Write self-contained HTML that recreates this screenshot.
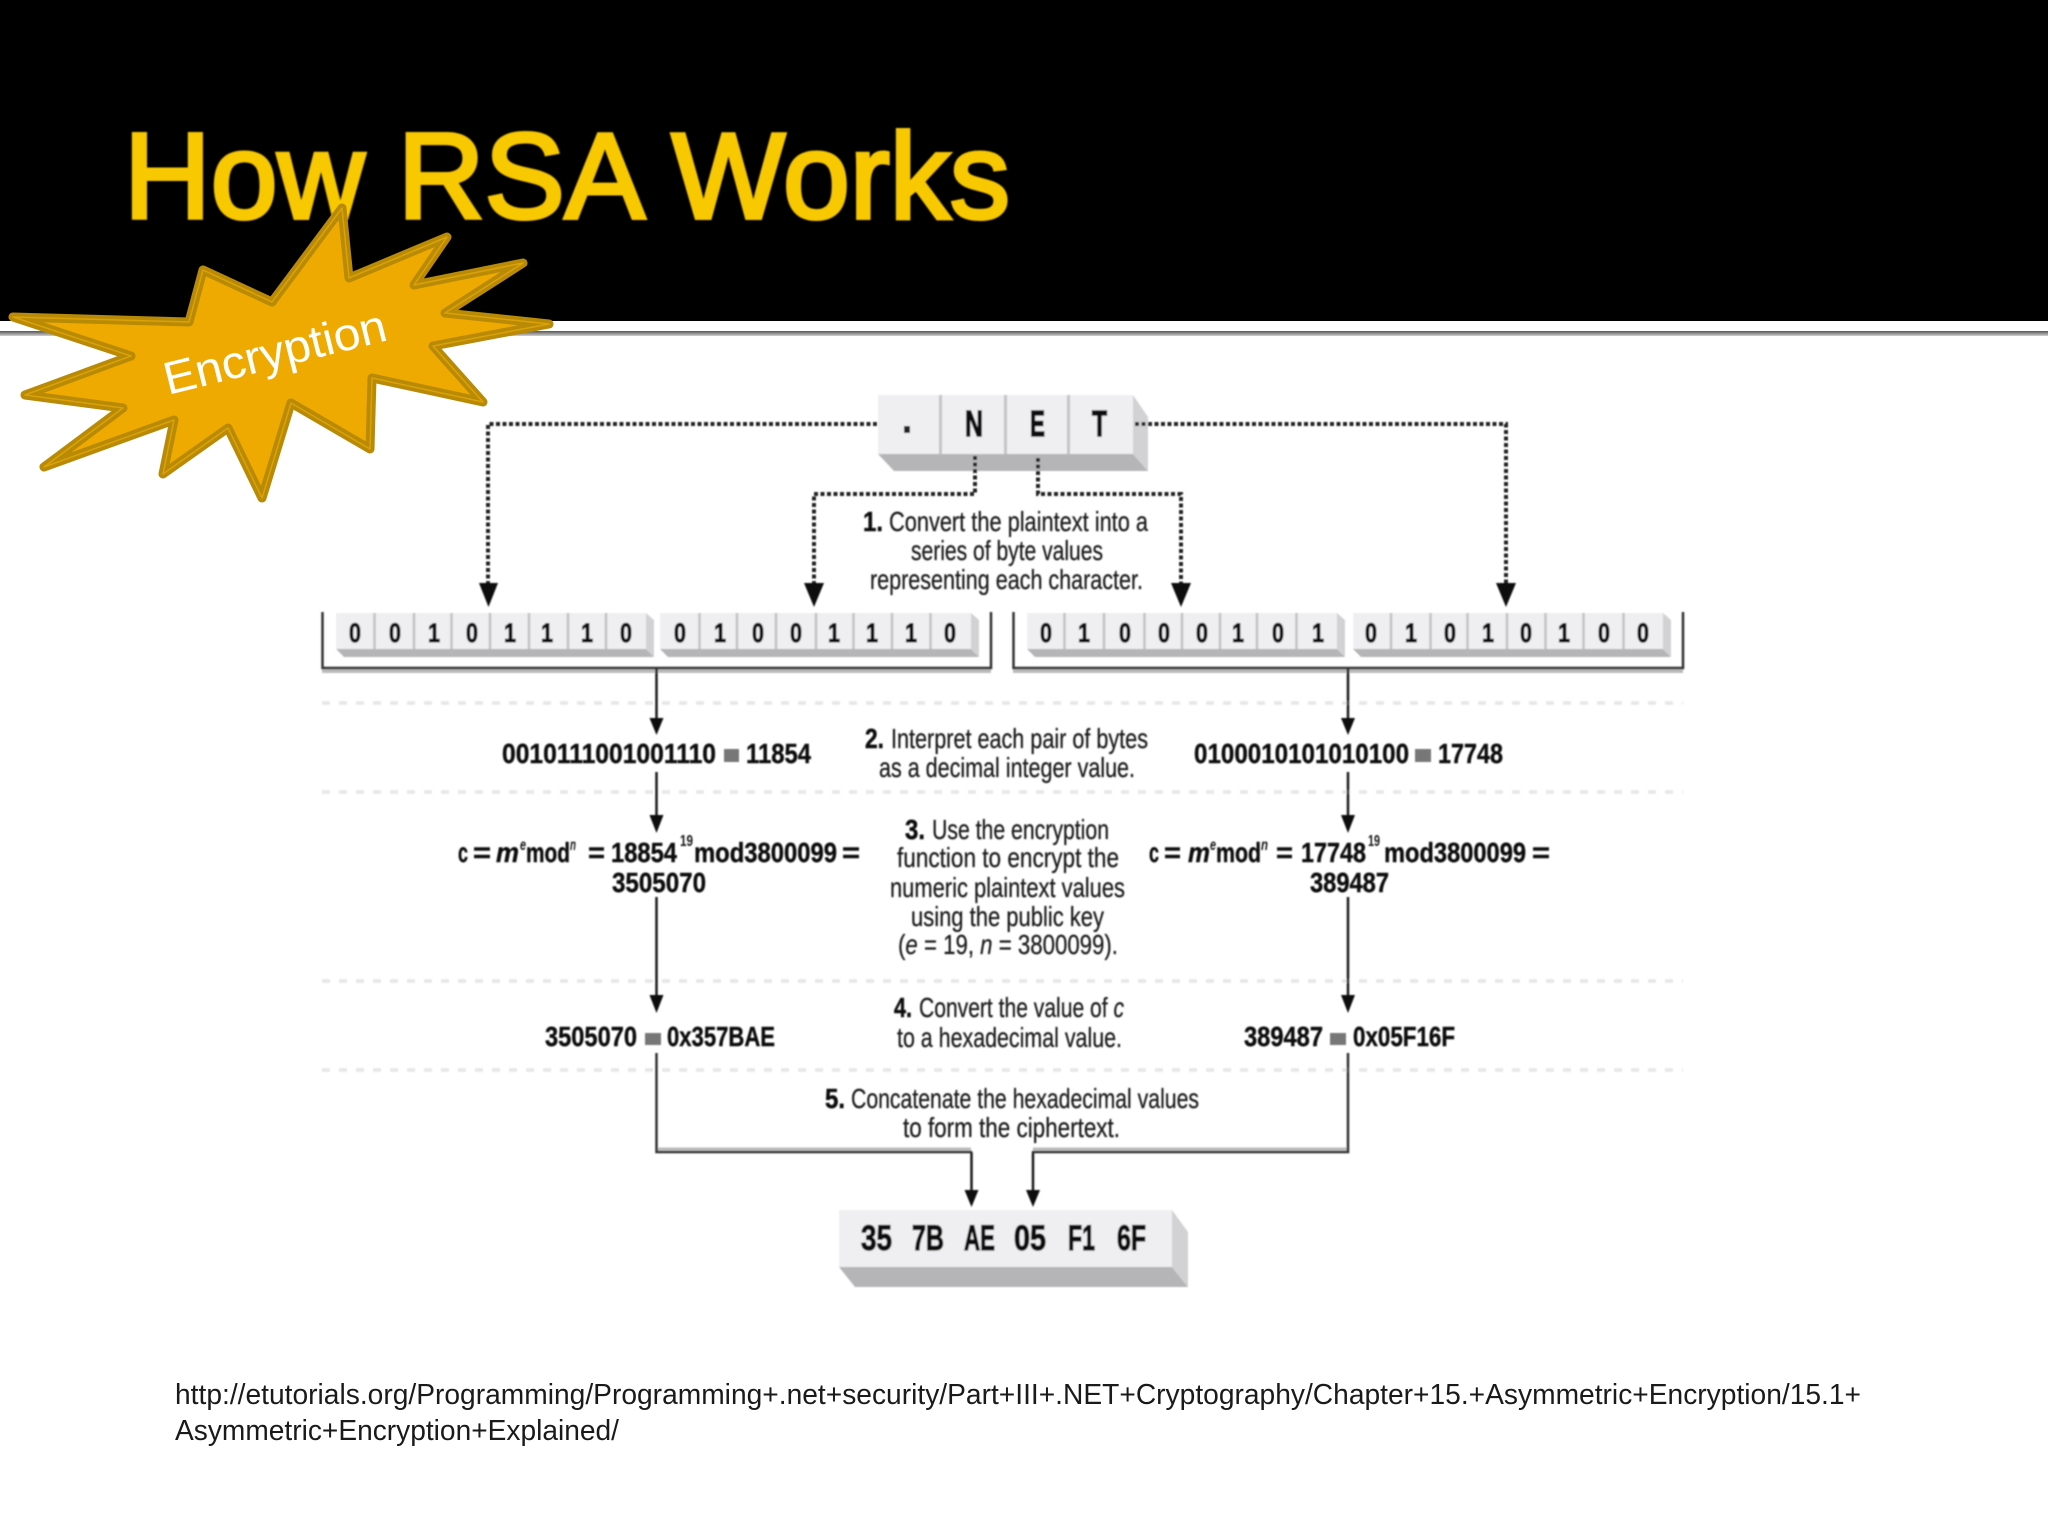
<!DOCTYPE html>
<html lang="en"><head><meta charset="utf-8"><title>How RSA Works</title>
<style>
html,body{margin:0;padding:0;background:#fff}
svg{display:block}
text{font-family:"Liberation Sans Narrow","Liberation Sans",sans-serif;fill:#1c1c1c}
.d{font-weight:bold;font-size:27px;fill:#111;stroke:#111;stroke-width:1}
.k{font-weight:bold;font-size:36px;fill:#111;stroke:#111;stroke-width:1.4}
.s{font-size:28px;fill:#1e1e1e;stroke:#1e1e1e;stroke-width:.3}
.b{font-size:28px;font-weight:bold;fill:#111;stroke:#111;stroke-width:.5}
.v{font-size:28px;font-weight:bold;fill:#111;stroke:#111;stroke-width:.4}
.t{font-size:16px;font-weight:bold;fill:#151515}
.o{font-size:35px;font-weight:bold;fill:#111;stroke:#111;stroke-width:1.2}
.f{font-family:"Liberation Sans",sans-serif;font-size:29px;fill:#1a1a1a}
</style></head><body>
<svg xmlns="http://www.w3.org/2000/svg" width="2048" height="1536" viewBox="0 0 2048 1536">
<defs>
<linearGradient id="y" x1="0" y1="0" x2="0" y2="1"><stop offset="0" stop-color="#ffd800"/><stop offset=".6" stop-color="#f8c800"/><stop offset="1" stop-color="#e2ac08"/></linearGradient>
<filter id="bl" x="-2%" y="-2%" width="104%" height="104%"><feGaussianBlur stdDeviation="0.7"/></filter>
<linearGradient id="r" x1="0" y1="0" x2="0" y2="1"><stop offset="0" stop-color="#555"/><stop offset="1" stop-color="#d0d0d0"/></linearGradient>
</defs>
<rect width="2048" height="1536" fill="#fff"/>
<rect width="2048" height="321" fill="#000"/>
<rect y="331" width="2048" height="5" fill="url(#r)"/>
<text x="124" y="218" font-size="122" textLength="886" lengthAdjust="spacingAndGlyphs" style="font-family:'Liberation Sans',sans-serif;fill:#f8c800;stroke:#f8c800;stroke-width:4" filter="url(#bl)">How RSA Works</text>

<g filter="url(#bl)">
<!-- NET box -->
<polygon points="878,454 894,471 1148,471 1133,454" fill="#b5b5b7"/>
<polygon points="1133,395 1148,417 1148,471 1133,454" fill="#d2d2d4"/>
<rect x="878" y="395" width="255" height="59" fill="#efeff1"/>
<g fill="#c4c4c6"><rect x="939" y="395" width="3" height="59"/><rect x="1004" y="395" width="3" height="59"/><rect x="1067" y="395" width="3" height="59"/></g>
<rect x="904" y="426" width="6" height="7" fill="#222"/>
<text class="k" x="965" y="436" textLength="18" lengthAdjust="spacingAndGlyphs">N</text>
<text class="k" x="1030" y="436" textLength="15" lengthAdjust="spacingAndGlyphs">E</text>
<text class="k" x="1092" y="436" textLength="15" lengthAdjust="spacingAndGlyphs">T</text>

<!-- dotted connectors -->
<g fill="none" stroke="#222" stroke-width="4" stroke-dasharray="4 2.5">
<path d="M877 424H488V585"/>
<path d="M975 456V494H814V585"/>
<path d="M1038 458V494H1181V585"/>
<path d="M1135 424H1506V585"/>
</g>
<g fill="#111">
<polygon points="479,583 498,583 488.500,607"/>
<polygon points="804,583 824,583 814,607"/>
<polygon points="1171,583 1191,583 1181,607"/>
<polygon points="1496,583 1516,583 1506,607"/>
</g>

<!-- byte rows -->
<g id="rows">
<polygon points="336,649 344,657 654,657 646,649" fill="#b5b5b7"/><polygon points="646,613 654,620 654,657 646,649" fill="#d2d2d4"/><rect x="336" y="613" width="310" height="36" fill="#efeff1"/>
<polygon points="660,649 668,657 979,657 971,649" fill="#b5b5b7"/><polygon points="971,613 979,620 979,657 971,649" fill="#d2d2d4"/><rect x="660" y="613" width="311" height="36" fill="#efeff1"/>
<polygon points="1027,649 1035,657 1345,657 1337,649" fill="#b5b5b7"/><polygon points="1337,613 1345,620 1345,657 1337,649" fill="#d2d2d4"/><rect x="1027" y="613" width="310" height="36" fill="#efeff1"/>
<polygon points="1353,649 1361,657 1671,657 1663,649" fill="#b5b5b7"/><polygon points="1663,613 1671,620 1671,657 1663,649" fill="#d2d2d4"/><rect x="1353" y="613" width="310" height="36" fill="#efeff1"/>
</g>
<path d="M374.500 613V649M414 613V649M451.500 613V649M490 613V649M529 613V649M568 613V649M606 613V649M699.500 613V649M737 613V649M776 613V649M816 613V649M853.500 613V649M892 613V649M930.500 613V649M1064.500 613V649M1104 613V649M1144.500 613V649M1182 613V649M1220 613V649M1257 613V649M1296.500 613V649M1391 613V649M1430.500 613V649M1467.500 613V649M1507 613V649M1545.500 613V649M1583.500 613V649M1623.500 613V649" stroke="#c2c2c4" stroke-width="2.500" fill="none"/>
<g class="digits">
<text class="d" x="349" y="642" textLength="12" lengthAdjust="spacingAndGlyphs">0</text><text class="d" x="389" y="642" textLength="12" lengthAdjust="spacingAndGlyphs">0</text><text class="d" x="428" y="642" textLength="12" lengthAdjust="spacingAndGlyphs">1</text><text class="d" x="466" y="642" textLength="12" lengthAdjust="spacingAndGlyphs">0</text><text class="d" x="504" y="642" textLength="12" lengthAdjust="spacingAndGlyphs">1</text><text class="d" x="541" y="642" textLength="12" lengthAdjust="spacingAndGlyphs">1</text><text class="d" x="581" y="642" textLength="12" lengthAdjust="spacingAndGlyphs">1</text><text class="d" x="620" y="642" textLength="12" lengthAdjust="spacingAndGlyphs">0</text>
<text class="d" x="674" y="642" textLength="12" lengthAdjust="spacingAndGlyphs">0</text><text class="d" x="714" y="642" textLength="12" lengthAdjust="spacingAndGlyphs">1</text><text class="d" x="752" y="642" textLength="12" lengthAdjust="spacingAndGlyphs">0</text><text class="d" x="790" y="642" textLength="12" lengthAdjust="spacingAndGlyphs">0</text><text class="d" x="828" y="642" textLength="12" lengthAdjust="spacingAndGlyphs">1</text><text class="d" x="866" y="642" textLength="12" lengthAdjust="spacingAndGlyphs">1</text><text class="d" x="905" y="642" textLength="12" lengthAdjust="spacingAndGlyphs">1</text><text class="d" x="944" y="642" textLength="12" lengthAdjust="spacingAndGlyphs">0</text>
<text class="d" x="1040" y="642" textLength="12" lengthAdjust="spacingAndGlyphs">0</text><text class="d" x="1078" y="642" textLength="12" lengthAdjust="spacingAndGlyphs">1</text><text class="d" x="1119" y="642" textLength="12" lengthAdjust="spacingAndGlyphs">0</text><text class="d" x="1158" y="642" textLength="12" lengthAdjust="spacingAndGlyphs">0</text><text class="d" x="1196" y="642" textLength="12" lengthAdjust="spacingAndGlyphs">0</text><text class="d" x="1232" y="642" textLength="12" lengthAdjust="spacingAndGlyphs">1</text><text class="d" x="1272" y="642" textLength="12" lengthAdjust="spacingAndGlyphs">0</text><text class="d" x="1312" y="642" textLength="12" lengthAdjust="spacingAndGlyphs">1</text>
<text class="d" x="1365" y="642" textLength="12" lengthAdjust="spacingAndGlyphs">0</text><text class="d" x="1405" y="642" textLength="12" lengthAdjust="spacingAndGlyphs">1</text><text class="d" x="1444" y="642" textLength="12" lengthAdjust="spacingAndGlyphs">0</text><text class="d" x="1482" y="642" textLength="12" lengthAdjust="spacingAndGlyphs">1</text><text class="d" x="1520" y="642" textLength="12" lengthAdjust="spacingAndGlyphs">0</text><text class="d" x="1558" y="642" textLength="12" lengthAdjust="spacingAndGlyphs">1</text><text class="d" x="1598" y="642" textLength="12" lengthAdjust="spacingAndGlyphs">0</text><text class="d" x="1637" y="642" textLength="12" lengthAdjust="spacingAndGlyphs">0</text>
</g>

<!-- brackets -->
<path d="M322 671H991M1013 671H1683" stroke="#bbb" stroke-width="4"/>
<path d="M322.500 612V668H991V612M1013.500 612V668H1683V612" fill="none" stroke="#333" stroke-width="2.500"/>

<!-- dashed separators -->
<path d="M322 703H1683M322 792H1683M322 981H1683M322 1070H1683" stroke="#e6e6e6" stroke-width="3.500" stroke-dasharray="8 9" fill="none"/>

<!-- solid arrows -->
<g stroke="#1a1a1a" stroke-width="2.500" fill="none">
<path d="M656.500 669V722M1348 669V722M656.500 772V820M1348 772V820M656.500 897V1000M1348 897V1000"/>
<path d="M971.500 1152V1195M1033 1152V1195"/>
</g>
<path d="M656 1149H971M1033 1149H1348" stroke="#bbb" stroke-width="3"/>
<path d="M656.500 1053V1152H972M1348 1053V1152H1032" stroke="#333" stroke-width="2.500" fill="none"/>
<g fill="#111">
<polygon points="649.500,718 663.500,718 656.500,735"/><polygon points="1341,718 1355,718 1348,735"/>
<polygon points="649.500,815 663.500,815 656.500,833"/><polygon points="1341,815 1355,815 1348,833"/>
<polygon points="649.500,995 663.500,995 656.500,1013"/><polygon points="1341,995 1355,995 1348,1013"/>
<polygon points="964.500,1190 978.500,1190 971.500,1207"/><polygon points="1026,1190 1040,1190 1033,1207"/>
</g>

<!-- output box -->
<polygon points="839,1267 855,1287 1188,1287 1172,1267" fill="#b5b5b7"/>
<polygon points="1172,1210 1188,1232 1188,1287 1172,1267" fill="#d2d2d4"/>
<rect x="839" y="1210" width="333" height="57" fill="#efeff1"/>
<text class="o" x="861" y="1250" textLength="31" lengthAdjust="spacingAndGlyphs">35</text>
<text class="o" x="912" y="1250" textLength="32" lengthAdjust="spacingAndGlyphs">7B</text>
<text class="o" x="964" y="1250" textLength="31" lengthAdjust="spacingAndGlyphs">AE</text>
<text class="o" x="1014" y="1250" textLength="32" lengthAdjust="spacingAndGlyphs">05</text>
<text class="o" x="1068" y="1250" textLength="27" lengthAdjust="spacingAndGlyphs">F1</text>
<text class="o" x="1117" y="1250" textLength="29" lengthAdjust="spacingAndGlyphs">6F</text>

<!-- step text -->
<text class="b" x="863" y="531" textLength="20" lengthAdjust="spacingAndGlyphs">1.</text>
<text class="s" x="889" y="531" textLength="259" lengthAdjust="spacingAndGlyphs">Convert the plaintext into a</text>
<text class="s" x="911" y="560" textLength="192" lengthAdjust="spacingAndGlyphs">series of byte values</text>
<text class="s" x="870" y="589" textLength="273" lengthAdjust="spacingAndGlyphs">representing each character.</text>

<text class="b" x="865" y="748" textLength="19" lengthAdjust="spacingAndGlyphs">2.</text>
<text class="s" x="891" y="748" textLength="257" lengthAdjust="spacingAndGlyphs">Interpret each pair of bytes</text>
<text class="s" x="879" y="777" textLength="256" lengthAdjust="spacingAndGlyphs">as a decimal integer value.</text>

<text class="b" x="905" y="839" textLength="20" lengthAdjust="spacingAndGlyphs">3.</text>
<text class="s" x="932" y="839" textLength="177" lengthAdjust="spacingAndGlyphs">Use the encryption</text>
<text class="s" x="897" y="867" textLength="222" lengthAdjust="spacingAndGlyphs">function to encrypt the</text>
<text class="s" x="890" y="897" textLength="235" lengthAdjust="spacingAndGlyphs">numeric plaintext values</text>
<text class="s" x="911" y="926" textLength="193" lengthAdjust="spacingAndGlyphs">using the public key</text>
<text class="s" x="898" y="954" textLength="220" lengthAdjust="spacingAndGlyphs">(<tspan font-style="italic">e</tspan> = 19, <tspan font-style="italic">n</tspan> = 3800099).</text>

<text class="b" x="894" y="1017" textLength="18" lengthAdjust="spacingAndGlyphs">4.</text>
<text class="s" x="919" y="1017" textLength="205" lengthAdjust="spacingAndGlyphs">Convert the value of <tspan font-style="italic">c</tspan></text>
<text class="s" x="897" y="1047" textLength="225" lengthAdjust="spacingAndGlyphs">to a hexadecimal value.</text>

<text class="b" x="825" y="1108" textLength="20" lengthAdjust="spacingAndGlyphs">5.</text>
<text class="s" x="851" y="1108" textLength="348" lengthAdjust="spacingAndGlyphs">Concatenate the hexadecimal values</text>
<text class="s" x="903" y="1137" textLength="217" lengthAdjust="spacingAndGlyphs">to form the ciphertext.</text>

<!-- values -->
<text class="v" x="502" y="763" textLength="214" lengthAdjust="spacingAndGlyphs">0010111001001110</text>
<rect x="724" y="749" width="15" height="13" fill="#777"/>
<text class="v" x="746" y="763" textLength="65" lengthAdjust="spacingAndGlyphs">11854</text>
<text class="v" x="1194" y="763" textLength="215" lengthAdjust="spacingAndGlyphs">0100010101010100</text>
<rect x="1415" y="749" width="16" height="13" fill="#777"/>
<text class="v" x="1438" y="763" textLength="65" lengthAdjust="spacingAndGlyphs">17748</text>

<text class="v" x="458" y="862" textLength="10" lengthAdjust="spacingAndGlyphs">c</text>
<text class="v" x="473" y="862" textLength="18" lengthAdjust="spacingAndGlyphs">=</text>
<text class="v" x="496" y="862" textLength="23" lengthAdjust="spacingAndGlyphs" font-style="italic">m</text>
<text class="t" x="520" y="850" textLength="6" lengthAdjust="spacingAndGlyphs" font-style="italic">e</text>
<text class="v" x="526" y="862" textLength="44" lengthAdjust="spacingAndGlyphs">mod</text>
<text class="t" x="570" y="850" textLength="6" lengthAdjust="spacingAndGlyphs" font-style="italic">n</text>
<text class="v" x="588" y="862" textLength="17" lengthAdjust="spacingAndGlyphs">=</text>
<text class="v" x="611" y="862" textLength="66" lengthAdjust="spacingAndGlyphs">18854</text>
<text class="t" x="680" y="846" textLength="13" lengthAdjust="spacingAndGlyphs">19</text>
<text class="v" x="694" y="862" textLength="143" lengthAdjust="spacingAndGlyphs">mod3800099</text>
<text class="v" x="842" y="862" textLength="18" lengthAdjust="spacingAndGlyphs">=</text>
<text class="v" x="612" y="892" textLength="94" lengthAdjust="spacingAndGlyphs">3505070</text>

<text class="v" x="1149" y="862" textLength="10" lengthAdjust="spacingAndGlyphs">c</text>
<text class="v" x="1164" y="862" textLength="17" lengthAdjust="spacingAndGlyphs">=</text>
<text class="v" x="1188" y="862" textLength="22" lengthAdjust="spacingAndGlyphs" font-style="italic">m</text>
<text class="t" x="1210" y="850" textLength="6" lengthAdjust="spacingAndGlyphs" font-style="italic">e</text>
<text class="v" x="1216" y="862" textLength="45" lengthAdjust="spacingAndGlyphs">mod</text>
<text class="t" x="1261" y="850" textLength="7" lengthAdjust="spacingAndGlyphs" font-style="italic">n</text>
<text class="v" x="1276" y="862" textLength="17" lengthAdjust="spacingAndGlyphs">=</text>
<text class="v" x="1301" y="862" textLength="65" lengthAdjust="spacingAndGlyphs">17748</text>
<text class="t" x="1368" y="846" textLength="12" lengthAdjust="spacingAndGlyphs">19</text>
<text class="v" x="1384" y="862" textLength="142" lengthAdjust="spacingAndGlyphs">mod3800099</text>
<text class="v" x="1532" y="862" textLength="18" lengthAdjust="spacingAndGlyphs">=</text>
<text class="v" x="1310" y="892" textLength="79" lengthAdjust="spacingAndGlyphs">389487</text>

<text class="v" x="545" y="1046" textLength="92" lengthAdjust="spacingAndGlyphs">3505070</text>
<rect x="645" y="1033" width="16" height="12" fill="#777"/>
<text class="v" x="667" y="1046" textLength="108" lengthAdjust="spacingAndGlyphs">0x357BAE</text>
<text class="v" x="1244" y="1046" textLength="79" lengthAdjust="spacingAndGlyphs">389487</text>
<rect x="1330" y="1033" width="16" height="12" fill="#777"/>
<text class="v" x="1353" y="1046" textLength="102" lengthAdjust="spacingAndGlyphs">0x05F16F</text>
</g>

<!-- starburst -->
<polygon points="13,317 189,322 203,270 272,302 342,208 349,278 447,237 414,285 523,263 445,313 549,324 433,346 483,402 372,378 370,449 291,403 262,498 228,428 163,474 174,420 44,467 123,408 25,395 131,356" fill="#eeaa00" stroke="#b98a06" stroke-width="9" stroke-linejoin="round"/>
<polygon points="13,317 189,322 203,270 272,302 342,208 349,278 447,237 414,285 523,263 445,313 549,324 433,346 483,402 372,378 370,449 291,403 262,498 228,428 163,474 174,420 44,467 123,408 25,395 131,356" fill="none" stroke="#dba208" stroke-width="1.500" stroke-linejoin="round"/>
<text transform="translate(168,395) rotate(-14)" font-size="46" textLength="228" lengthAdjust="spacingAndGlyphs" style="font-family:'Liberation Sans',sans-serif;fill:#fff">Encryption</text>

<!-- footer -->
<text class="f" x="175" y="1404" textLength="1686" lengthAdjust="spacingAndGlyphs">http://etutorials.org/Programming/Programming+.net+security/Part+III+.NET+Cryptography/Chapter+15.+Asymmetric+Encryption/15.1+</text>
<text class="f" x="175" y="1440" textLength="444" lengthAdjust="spacingAndGlyphs">Asymmetric+Encryption+Explained/</text>
</svg>
</body></html>
